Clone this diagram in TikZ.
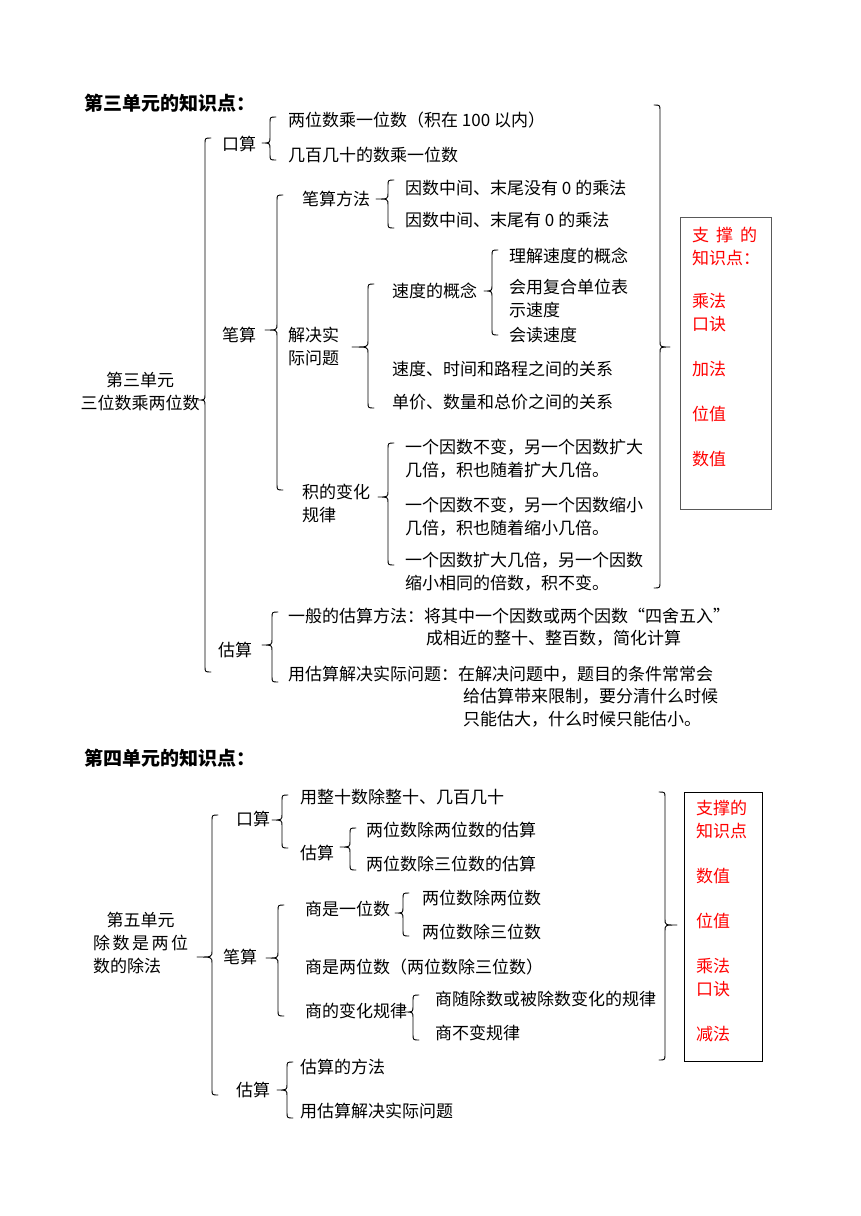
\documentclass[tikz,border=0pt]{standalone}
\usepackage{fontspec}
\setmainfont{Noto Sans CJK SC}
% left brace: x, top, tip y, bottom, tip x
\newcommand\mybraceL[5]{\draw[brc] (#1+6,#2) .. controls (#1,#2) .. (#1,#2+6) -- (#1,#3-6) .. controls (#1,#3) .. (#5,#3) .. controls (#1,#3) .. (#1,#3+6) -- (#1,#4-6) .. controls (#1,#4) .. (#1+6,#4);}
% right brace: x, top, tip y, bottom, tip x
\newcommand\mybraceR[5]{\draw[brc] (#1-6,#2) .. controls (#1,#2) .. (#1,#2+6) -- (#1,#3-6) .. controls (#1,#3) .. (#5,#3) .. controls (#1,#3) .. (#1,#3+6) -- (#1,#4-6) .. controls (#1,#4) .. (#1-6,#4);}
\begin{document}
\begin{tikzpicture}[x=1pt,y=-1pt,
  txt/.style={anchor=base west, inner sep=0pt, align=left, font=\fontsize{17}{23}\selectfont},
  ttl/.style={anchor=base west, inner sep=0pt, font=\fontsize{19}{23}\selectfont\bfseries},
  rtxt/.style={txt, text=red},
  brc/.style={line width=0.9pt, line join=round, line cap=round},
  kbox/.style={draw, inner sep=0pt, anchor=north west}]
\fill[white] (0,0) rectangle (860,1216);
\useasboundingbox (0,0) rectangle (860,1216);

% ================= Section 1 =================
% (multi-line nodes are placed by the baseline of their last line)
\node[ttl] (t3) at (84,110) {第三单元的知识点：};
\node[txt, anchor=base, align=center] (r3) at (140,409) {第三单元\\三位数乘两位数};

\node[txt] (a1) at (222,150) {口算};
\node[txt] (a11) at (288,126) {两位数乘一位数（积在 100 以内）};
\node[txt] (a12) at (288,161) {几百几十的数乘一位数};

\node[txt] (b1) at (222,341) {笔算};
\node[txt] (b1a) at (302,205) {笔算方法};
\node[txt] (b1a1) at (405,194) {因数中间、末尾没有 0 的乘法};
\node[txt] (b1a2) at (405,226) {因数中间、末尾有 0 的乘法};
\node[txt] (b1b) at (288,364) {解决实\\际问题};
\node[txt] (b1b1) at (392,297) {速度的概念};
\node[txt] (b1b1a) at (509,262) {理解速度的概念};
\node[txt] (b1b1b) at (509,316) {会用复合单位表\\示速度};
\node[txt] (b1b1c) at (509,341) {会读速度};
\node[txt] (b1b2) at (392,375) {速度、时间和路程之间的关系};
\node[txt] (b1b3) at (392,408) {单价、数量和总价之间的关系};
\node[txt] (b1c) at (302,521) {积的变化\\规律};
\node[txt] (b1c1) at (405,476) {一个因数不变，另一个因数扩大\\几倍，积也随着扩大几倍。};
\node[txt] (b1c2) at (405,534) {一个因数不变，另一个因数缩小\\几倍，积也随着缩小几倍。};
\node[txt] (b1c3) at (405,589) {一个因数扩大几倍，另一个因数\\缩小相同的倍数，积不变。};

\node[txt] (c1) at (218,656) {估算};
\node[txt] (c1a) at (288,622) {一般的估算方法：将其中一个因数或两个因数“四舍五入”};
\node[txt] (c1a2) at (426,644) {成相近的整十、整百数，简化计算};
\node[txt] (c1b) at (288,680) {用估算解决实际问题：在解决问题中，题目的条件常常会};
\node[txt] (c1b2) at (463,725) {给估算带来限制，要分清什么时候\\只能估大，什么时候只能估小。};

\mybraceL{205}{138}{400}{672}{198}
\mybraceL{270}{117}{143}{160}{262}
\mybraceL{277}{195}{330}{490}{265}
\mybraceL{388}{180}{199}{228}{376}
\mybraceL{368}{284}{347}{408}{352}
\mybraceL{492}{250}{291}{335}{484}
\mybraceL{388}{443}{497}{565}{378}
\mybraceL{272}{612}{645}{682}{262}
\mybraceR{660}{105}{347}{588}{670}

\node[kbox, draw=gray!70!black, line width=1.4pt, minimum width=91pt, minimum height=292pt] (k3) at (680,217) {};
\node[rtxt] (k3t) at (692,264) {\makebox[65pt][s]{支\hfill 撑\hfill 的}\\知识点：};
\node[rtxt] (k3a) at (692,330) {乘法\\口诀};
\node[rtxt] (k3b) at (692,375) {加法};
\node[rtxt] (k3c) at (692,420) {位值};
\node[rtxt] (k3d) at (692,465) {数值};

% ================= Section 2 =================
\node[ttl] (t4) at (84,765) {第四单元的知识点：};
\node[txt] (r5) at (93,972) {\makebox[95pt][c]{第五单元}\\\makebox[95pt][s]{除\hfill 数\hfill 是\hfill 两\hfill 位}\\数的除法};

\node[txt] (a2) at (236,825) {口算};
\node[txt] (a21) at (300,803) {用整十数除整十、几百几十};
\node[txt] (a22) at (300,859) {估算};
\node[txt] (a22a) at (366,836) {两位数除两位数的估算};
\node[txt] (a22b) at (366,870) {两位数除三位数的估算};

\node[txt] (b2) at (223,963) {笔算};
\node[txt] (b2a) at (305,915) {商是一位数};
\node[txt] (b2a1) at (422,904) {两位数除两位数};
\node[txt] (b2a2) at (422,938) {两位数除三位数};
\node[txt] (b2b) at (305,973) {商是两位数（两位数除三位数）};
\node[txt] (b2c) at (305,1017) {商的变化规律};
\node[txt] (b2c1) at (435,1005) {商随除数或被除数变化的规律};
\node[txt] (b2c2) at (435,1039) {商不变规律};

\node[txt] (c2) at (236,1096) {估算};
\node[txt] (c2a) at (300,1073) {估算的方法};
\node[txt] (c2b) at (300,1117) {用估算解决实际问题};

\mybraceL{212}{815}{957}{1095}{197}
\mybraceL{282}{795}{820}{848}{272}
\mybraceL{350}{828}{847}{870}{340}
\mybraceL{278}{905}{958}{1016}{266}
\mybraceL{403}{893}{913}{936}{395}
\mybraceL{413}{995}{1012}{1040}{405}
\mybraceL{287}{1062}{1090}{1118}{277}
\mybraceR{665}{792}{925}{1060}{677}

\node[kbox, draw=black, line width=1.2pt, minimum width=78pt, minimum height=269pt] (k5) at (684,792) {};
\node[rtxt] (k5t) at (696,837) {支撑的\\知识点};
\node[rtxt] (k5a) at (696,882) {数值};
\node[rtxt] (k5b) at (696,927) {位值};
\node[rtxt] (k5c) at (696,995) {乘法\\口诀};
\node[rtxt] (k5d) at (696,1040) {减法};
\end{tikzpicture}
\end{document}
